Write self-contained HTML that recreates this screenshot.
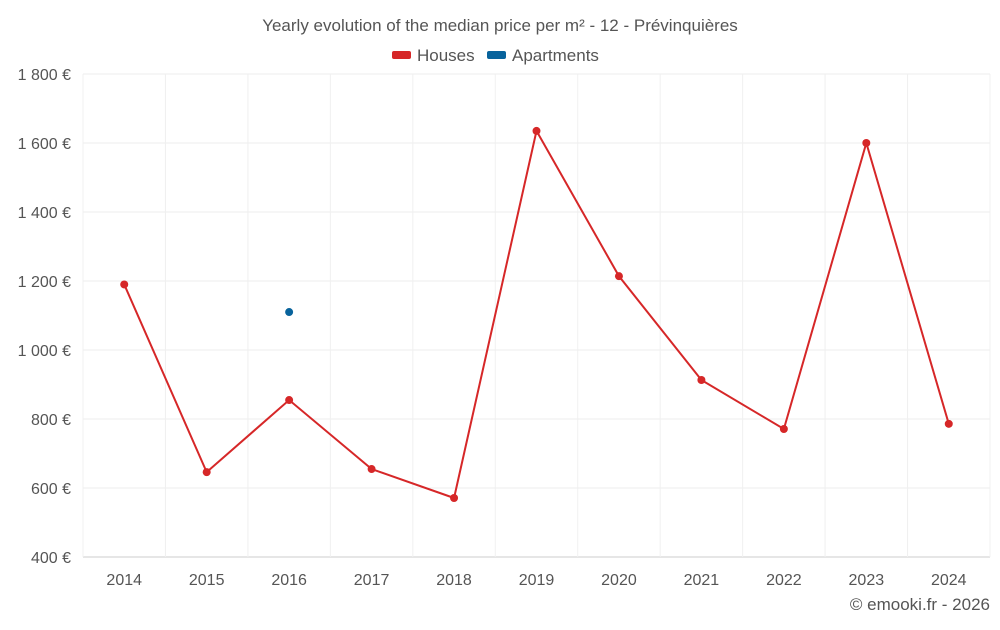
<!DOCTYPE html>
<html><head><meta charset="utf-8"><style>
body{margin:0;background:#fff;font-family:"Liberation Sans",sans-serif;}
svg text{font-family:"Liberation Sans",sans-serif;fill:#555;}
</style></head><body>
<svg id="chart" width="1000" height="625" xmlns="http://www.w3.org/2000/svg">
<text x="500" y="31" text-anchor="middle" font-size="17">Yearly evolution of the median price per m² - 12 - Prévinquières</text>
<g>
<rect x="392" y="51" width="19" height="8" rx="2" fill="#d62728"/>
<text x="417" y="61" font-size="17">Houses</text>
<rect x="487" y="51" width="19" height="8" rx="2" fill="#08639c"/>
<text x="512" y="61" font-size="17">Apartments</text>
</g>
<g id="grid"></g><g id="axes"></g><g id="marks"></g>
<text x="990" y="610" text-anchor="end" font-size="17">© emooki.fr - 2026</text>
</svg>
<script>
const years=["2014","2015","2016","2017","2018","2019","2020","2021","2022","2023","2024"];
const houses=[1190,646,855,655,571,1635,1214,913,771,1600,786];
const apartments=[null,null,1110,null,null,null,null,null,null,null,null];
const yTicks=[400,600,800,1000,1200,1400,1600,1800];
const NS="http://www.w3.org/2000/svg";
const L=83,R=990,T=74,B=557,ymin=400,ymax=1800;
const bw=(R-L)/years.length;
const x=i=>L+bw*(i+0.5);
const y=v=>B-(v-ymin)/(ymax-ymin)*(B-T);
function mk(t,a,p){const e=document.createElementNS(NS,t);for(const k in a)e.setAttribute(k,a[k]);p.appendChild(e);return e;}
const grid=document.getElementById('grid'),axes=document.getElementById('axes'),marks=document.getElementById('marks');
yTicks.forEach(v=>{
 const g=mk('line',{x1:L,x2:R,y1:y(v),y2:y(v),stroke:v===ymin?'#ccc':'#ececec'},grid);
 
 
 const t=mk('text',{x:71,y:y(v)+6,'text-anchor':'end','font-size':'16'},axes);
 t.textContent=v.toLocaleString('fr-FR').replace(/\s/g,' ')+' €';
 
 
});
for(let i=0;i<=years.length;i++){
 const g=mk('line',{x1:L+bw*i,x2:L+bw*i,y1:T,y2:B,stroke:'#f0f0f0'},grid);
 
 
}
years.forEach((yr,i)=>{
 const t=mk('text',{x:x(i),y:585,'text-anchor':'middle','font-size':'16'},axes);
 t.textContent=yr;
 
 
});
const pts=houses.map((v,i)=>x(i)+','+y(v)).join(' ');
const pl=mk('polyline',{points:pts,fill:'none',stroke:'#d62728','stroke-width':2},marks);


houses.forEach((v,i)=>{
 const c=mk('circle',{cx:x(i),cy:y(v),r:4,fill:'#d62728'},marks);
 
 
});
apartments.forEach((v,i)=>{
 if(v==null)return;
 const c=mk('circle',{cx:x(i),cy:y(v),r:4,fill:'#08639c'},marks);
 
 
});
</script>
</body></html>
